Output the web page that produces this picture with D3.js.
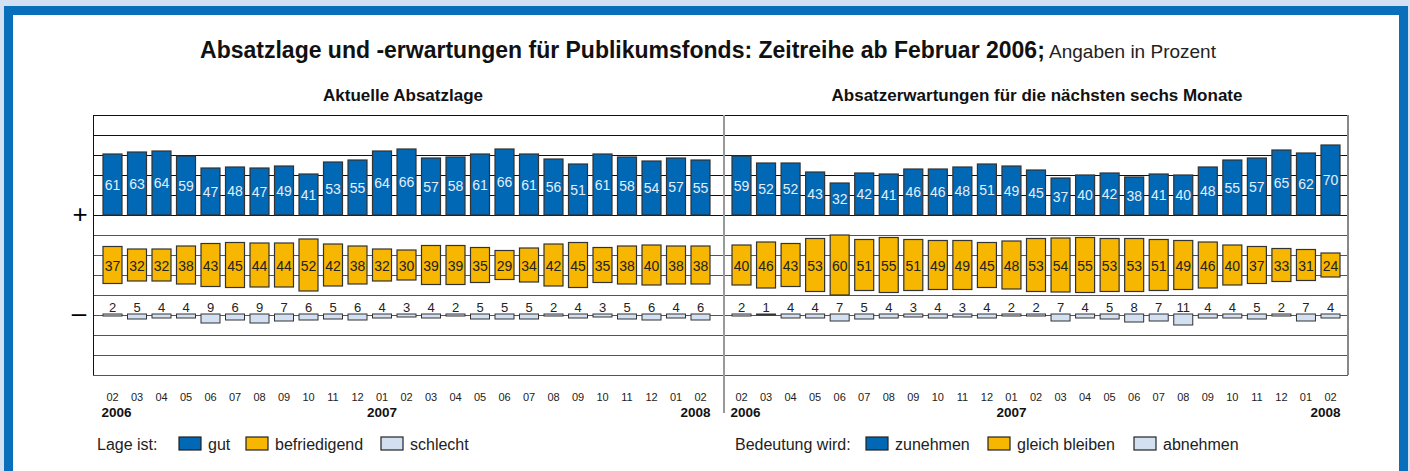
<!DOCTYPE html>
<html>
<head>
<meta charset="utf-8">
<script src="https://cdn.jsdelivr.net/npm/d3@7"></script>
<style>
  html, body { margin: 0; padding: 0; background: #d3e0f1; }
  svg { display: block; font-family: "Liberation Sans", Arial, sans-serif; }
</style>
</head>
<body>
<svg id="chart" width="1410" height="471"></svg>
<script>
// month ticks Feb 2006 .. Feb 2008
const months = ['02','03','04','05','06','07','08','09','10','11','12',
  '01','02','03','04','05','06','07','08','09','10','11','12','01','02'];
const years = ['2006', '2007', '2008'];

// Aktuelle Absatzlage
const lageGut = [61,63,64,59,47,48,47,49,41,53,55,64,66,57,58,61,66,61,56,51,61,58,54,57,55];
const lageBefr = [37,32,32,38,43,45,44,44,52,42,38,32,30,39,39,35,29,34,42,45,35,38,40,38,38];
const lageSchl = [2,5,4,4,9,6,9,7,6,5,6,4,3,4,2,5,5,5,2,4,3,5,6,4,6];

// Absatzerwartungen naechste sechs Monate
const erwZu = [59,52,52,43,32,42,41,46,46,48,51,49,45,37,40,42,38,41,40,48,55,57,65,62,70];
const erwGleich = [40,46,43,53,60,51,55,51,49,49,45,48,53,54,55,53,53,51,49,46,40,37,33,31,24];
const erwAb = [2,1,4,4,7,5,4,3,4,3,4,2,2,7,4,5,8,7,11,4,4,5,2,7,4];

const colors = { gut: '#0068b5', mid: '#f7b600', bad: '#d3e0f2' };

const svg = d3.select('#chart');

// page frame
svg.append('rect').attr('x', 4).attr('y', 6).attr('width', 1404).attr('height', 480)
  .attr('fill', '#0a6fbb');
svg.append('rect').attr('x', 13).attr('y', 15).attr('width', 1386).attr('height', 470)
  .attr('fill', '#fff');

// title
const title = svg.append('text').attr('x', 708).attr('y', 58).attr('text-anchor', 'middle')
  .attr('fill', '#111');
title.append('tspan').attr('font-size', 23).attr('font-weight', 'bold')
  .text('Absatzlage und -erwartungen für Publikumsfonds: Zeitreihe ab Februar 2006;');
title.append('tspan').attr('font-size', 19).attr('fill', '#222').text(' Angaben in Prozent');

// vertical scale: 0 = "+" baseline, 1px per percent
const y = d3.scaleLinear().domain([100, -160]).range([115, 375]);
const h = v => y(0) - y(v);
const midCenter = -50;     // centre of the "gleich" band
const minusBase = -99;     // top of the "schlecht" bars

const left = 93, right = 1348, divider = 724;

// grid
svg.append('g').selectAll('line').data(d3.range(-160, 101, 20)).join('line')
  .attr('x1', left).attr('x2', right)
  .attr('y1', d => y(d)).attr('y2', d => y(d))
  .attr('stroke', d => d >= 0 ? '#111' : '#555').attr('stroke-width', 1)
  .attr('shape-rendering', 'crispEdges');
svg.append('line').attr('x1', left).attr('x2', left).attr('y1', y(100)).attr('y2', y(-160))
  .attr('stroke', '#111').attr('shape-rendering', 'crispEdges');
svg.append('line').attr('x1', right).attr('x2', right).attr('y1', y(100)).attr('y2', y(-160))
  .attr('stroke', '#888').attr('stroke-width', 1.5).attr('shape-rendering', 'crispEdges');
svg.append('line').attr('x1', divider).attr('x2', divider).attr('y1', y(100)).attr('y2', 413)
  .attr('stroke', '#999').attr('stroke-width', 1.5).attr('shape-rendering', 'crispEdges');

// + and - signs
svg.append('text').attr('x', 80).attr('y', y(0) + 8).attr('text-anchor', 'middle')
  .attr('font-size', 26).text('+');
svg.append('text').attr('x', 79).attr('y', y(-100) + 7).attr('text-anchor', 'middle')
  .attr('font-size', 26).text('–');

const bw = 19;

function panel(x0, x1, top, mid, bot, heading, headX) {
  const x = d3.scalePoint().domain(d3.range(months.length)).range([x0, x1]);
  const g = svg.append('g');

  g.append('text').attr('x', headX).attr('y', 101).attr('text-anchor', 'middle')
    .attr('font-size', 17).attr('font-weight', 'bold').attr('fill', '#111').text(heading);

  // positive bars
  g.selectAll('.top').data(top).join('rect')
    .attr('x', (d, i) => x(i) - bw / 2).attr('width', bw)
    .attr('y', d => y(d)).attr('height', d => h(d))
    .attr('fill', colors.gut).attr('stroke', '#333').attr('stroke-width', 1.2);
  g.selectAll('.topl').data(top).join('text')
    .attr('x', (d, i) => x(i)).attr('y', d => y(d / 2) + 5)
    .attr('text-anchor', 'middle').attr('font-size', 14).attr('fill', '#e4eefa')
    .text(d => d);

  // middle bars
  g.selectAll('.mid').data(mid).join('rect')
    .attr('x', (d, i) => x(i) - bw / 2).attr('width', bw)
    .attr('y', d => y(midCenter + d / 2)).attr('height', d => h(d))
    .attr('fill', colors.mid).attr('stroke', '#333').attr('stroke-width', 1.2);
  g.selectAll('.midl').data(mid).join('text')
    .attr('x', (d, i) => x(i)).attr('y', y(midCenter) + 6)
    .attr('text-anchor', 'middle').attr('font-size', 14).attr('fill', '#222')
    .text(d => d);

  // negative bars
  g.selectAll('.bot').data(bot).join('rect')
    .attr('x', (d, i) => x(i) - bw / 2).attr('width', bw)
    .attr('y', y(minusBase)).attr('height', d => h(d))
    .attr('fill', colors.bad).attr('stroke', '#333').attr('stroke-width', 1);
  g.selectAll('.botl').data(bot).join('text')
    .attr('x', (d, i) => x(i)).attr('y', y(minusBase) - 2)
    .attr('text-anchor', 'middle').attr('font-size', 13).attr('fill', '#222')
    .text(d => d);

  // month ticks
  g.selectAll('.mon').data(months).join('text')
    .attr('x', (d, i) => x(i)).attr('y', 401)
    .attr('text-anchor', 'middle').attr('font-size', 11).attr('fill', '#222')
    .text(d => d);

  // year labels under Feb 2006, Jan 2007, Feb 2008
  const yearPos = [[0, 'start', -11], [11, 'middle', 0], [24, 'end', 10]];
  g.selectAll('.yr').data(years).join('text')
    .attr('x', (d, i) => x(yearPos[i][0]) + yearPos[i][2])
    .attr('y', 417).attr('text-anchor', (d, i) => yearPos[i][1])
    .attr('font-size', 13.5).attr('font-weight', 'bold').attr('fill', '#111').text(d => d);
}

panel(112.5, 700.5, lageGut, lageBefr, lageSchl, 'Aktuelle Absatzlage', 403);
panel(741.5, 1330.5, erwZu, erwGleich, erwAb, 'Absatzerwartungen für die nächsten sechs Monate', 1037);

// legends
function legend(x0, label, items) {
  const g = svg.append('g').attr('font-size', 16).attr('fill', '#222');
  g.append('text').attr('x', x0).attr('y', 450).text(label);
  items.forEach(it => {
    g.append('rect').attr('x', it.x).attr('y', 437).attr('width', 22).attr('height', 13)
      .attr('fill', it.c).attr('stroke', '#222').attr('stroke-width', 1.2);
    g.append('text').attr('x', it.x + 29).attr('y', 450).text(it.t);
  });
}
legend(97, 'Lage ist:', [
  { x: 179, c: colors.gut, t: 'gut' },
  { x: 246, c: colors.mid, t: 'befriedigend' },
  { x: 381, c: colors.bad, t: 'schlecht' }
]);
legend(735, 'Bedeutung wird:', [
  { x: 866, c: colors.gut, t: 'zunehmen' },
  { x: 988, c: colors.mid, t: 'gleich bleiben' },
  { x: 1134, c: colors.bad, t: 'abnehmen' }
]);
</script>
</body>
</html>
